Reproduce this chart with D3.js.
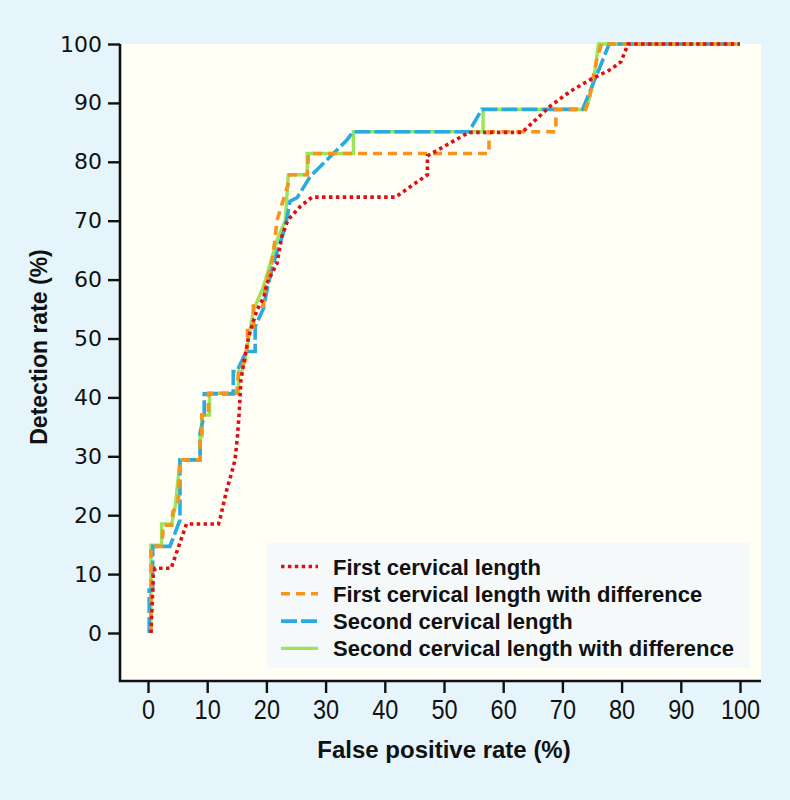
<!DOCTYPE html>
<html>
<head>
<meta charset="utf-8">
<script src="https://cdn.jsdelivr.net/npm/d3@7"></script>
<style>
  body { margin: 0; background: #e6f5fb; }
  svg { display: block; }
</style>
</head>
<body>
<div id="chart"></div>
<script>
// ROC curves, values (x = false positive %, y = detection %)
var xTicks = [0, 10, 20, 30, 40, 50, 60, 70, 80, 90, 100];
var yTicks = [0, 10, 20, 30, 40, 50, 60, 70, 80, 90, 100];

var firstX  = [0.5, 0.9, 1.2, 3.9, 6.5, 11.9, 12.2, 13.3, 14.1, 14.7, 15.1, 15.4, 15.7, 16.3, 17, 17.7, 18.4, 19.6, 20.1, 21.8, 22.6, 23.6, 25.7, 27.7, 41.8, 47.2, 47.2, 54.2, 63.2, 68, 71.4, 74.8, 78.2, 79.9, 81.1, 100];
var firstY  = [0, 9.8, 11, 11, 18.5, 18.5, 19.5, 24.3, 27.1, 29.4, 33.3, 37.3, 43, 46.6, 50.3, 52.6, 54.8, 57.1, 59.4, 62.8, 67.3, 70.1, 72.4, 74, 74, 77.8, 81, 85, 85, 89.5, 92, 94, 95.7, 97, 100, 100];

var firstDiffX = [0.5, 0.5, 2.3, 2.6, 4.0, 4.2, 5.1, 5.4, 8.8, 8.8, 9.1, 9.1, 10.2, 10.2, 15, 15.3, 16.5, 16.8, 16.8, 17.8, 17.8, 19.5, 19.8, 20.9, 21.3, 21.8, 22.6, 23.7, 24, 26.9, 27.1, 57.6, 57.6, 68.9, 68.9, 73.9, 74.5, 75.1, 75.9, 76.6, 100];
var firstDiffY = [0, 14.7, 14.7, 18.3, 18.3, 20.6, 22, 29.4, 29.4, 33.3, 33.3, 37, 37, 40.7, 40.7, 44.4, 46.4, 49.7, 52, 52, 55.5, 55.5, 58.8, 62.8, 65.6, 70.1, 72.7, 76.3, 77.8, 77.8, 81.4, 81.4, 85.1, 85.1, 88.9, 88.9, 90.5, 93.9, 97.8, 100, 100];

var secondX = [0.2, 0.2, 0.8, 0.8, 3.7, 5.4, 5.4, 8.8, 8.8, 9.5, 9.5, 14.4, 14.4, 15, 16.6, 18.1, 18.1, 19.5, 20.2, 21.2, 23.2, 24, 25.2, 27.4, 30.8, 33.6, 34.6, 54.2, 56.4, 73.4, 75.9, 77.9, 100];
var secondY = [0, 7.3, 7.3, 14.7, 14.7, 19.2, 29.4, 29.4, 34, 37, 40.6, 40.6, 44.4, 44.4, 47.8, 47.8, 52, 55.1, 58.8, 62.8, 69, 73.3, 73.9, 77.5, 80.9, 83.7, 85.1, 85.1, 88.9, 88.9, 95, 100, 100];

var secondDiffX = [0.5, 0.5, 2.3, 2.3, 4, 4.6, 5.4, 8.8, 8.8, 9.1, 9.1, 10.4, 10.4, 15.3, 15.3, 15.8, 16.1, 16.7, 17.8, 19.5, 21.8, 23.2, 23.7, 26.9, 26.9, 34.7, 34.7, 56.6, 56.6, 73.9, 74.5, 75.3, 76.1, 100];
var secondDiffY = [0, 14.9, 14.9, 18.5, 18.5, 21.5, 29.4, 29.4, 33.3, 33.3, 37, 37, 40.7, 40.7, 44.4, 44.4, 45.2, 48, 54.8, 58.8, 66.7, 70.1, 77.8, 77.8, 81.4, 81.4, 85.1, 85.1, 88.9, 88.9, 90.5, 94, 100, 100];

var seriesNames = ["First cervical length", "First cervical length with difference", "Second cervical length", "Second cervical length with difference"];

var series = [
  { name: seriesNames[3], xs: secondDiffX, ys: secondDiffY, color: "#9be55a", dash: null,      width: 3.4 },
  { name: seriesNames[2], xs: secondX,     ys: secondY,     color: "#29abe2", dash: "16,4",    width: 3.6 },
  { name: seriesNames[1], xs: firstDiffX,  ys: firstDiffY,  color: "#f7941d", dash: "9,6",     width: 3.6 },
  { name: seriesNames[0], xs: firstX,      ys: firstY,      color: "#dd1015", dash: "3.5,3.4", width: 3.6 }
];

var w = 790, h = 800;
var frame = { left: 120, right: 761, top: 44, bottom: 681 };

var x = d3.scaleLinear().domain([0, 100]).range([148, 740]);
var y = d3.scaleLinear().domain([0, 100]).range([633, 44]);

var svg = d3.select("#chart").append("svg")
  .attr("width", w)
  .attr("height", h);

svg.append("rect")
  .attr("width", w).attr("height", h)
  .attr("fill", "#e6f5fb");

// plot background
svg.append("rect")
  .attr("x", frame.left).attr("y", frame.top)
  .attr("width", frame.right - frame.left)
  .attr("height", frame.bottom - frame.top)
  .attr("fill", "#fffff6");

var line = d3.line()
  .x(function (d) { return x(d[0]); })
  .y(function (d) { return y(d[1]); });

svg.append("g").selectAll("path")
  .data(series)
  .enter()
  .append("path")
    .attr("d", function (s) { return line(d3.zip(s.xs, s.ys)); })
    .attr("fill", "none")
    .attr("stroke", function (s) { return s.color; })
    .attr("stroke-width", function (s) { return s.width; })
    .attr("stroke-dasharray", function (s) { return s.dash; });

// axes
var yAxis = svg.append("g")
  .attr("transform", "translate(" + frame.left + ",0)")
  .call(d3.axisLeft(y).tickValues(yTicks).tickSize(12).tickSizeOuter(0).tickPadding(6));
yAxis.select(".domain").remove();
yAxis.selectAll("line").attr("stroke", "#111").attr("stroke-width", 2.4);
yAxis.selectAll("text")
  .style("font-family", "DejaVu Sans")
  .style("font-size", "22px")
  .attr("fill", "#111");

var xAxis = svg.append("g")
  .attr("transform", "translate(0," + frame.bottom + ")")
  .call(d3.axisBottom(x).tickValues(xTicks).tickSize(12).tickSizeOuter(0).tickPadding(6));
xAxis.select(".domain").remove();
xAxis.selectAll("line").attr("stroke", "#111").attr("stroke-width", 2.4);
// narrow digits: squeeze the sans glyphs horizontally
xAxis.selectAll("text")
  .attr("transform", "scale(0.84,1)")
  .style("font-family", "Liberation Sans")
  .style("font-size", "28px")
  .attr("fill", "#111");

svg.append("path")
  .attr("d", "M" + frame.left + "," + frame.top + "V" + frame.bottom + "H" + frame.right)
  .attr("fill", "none")
  .attr("stroke", "#111")
  .attr("stroke-width", 2.6);

// axis titles
svg.append("text")
  .attr("transform", "translate(47,347) rotate(-90)")
  .attr("text-anchor", "middle")
  .style("font-family", "Liberation Sans")
  .style("font-weight", "bold")
  .style("font-size", "23px")
  .attr("fill", "#111")
  .text("Detection rate (%)");

svg.append("text")
  .attr("x", 444).attr("y", 758)
  .attr("text-anchor", "middle")
  .style("font-family", "Liberation Sans")
  .style("font-weight", "bold")
  .style("font-size", "24px")
  .attr("fill", "#111")
  .text("False positive rate (%)");

// legend
var legend = svg.append("g");
legend.append("rect")
  .attr("x", 267).attr("y", 543)
  .attr("width", 483).attr("height", 125)
  .attr("fill", "#f5f9f9");

var items = legend.selectAll("g.item")
  .data(series.slice().reverse())
  .enter()
  .append("g")
    .attr("class", "item")
    .attr("transform", function (d, i) { return "translate(0," + (566.5 + i * 27.3) + ")"; });

items.append("line")
  .attr("x1", 281).attr("x2", 318)
  .attr("stroke", function (s) { return s.color; })
  .attr("stroke-width", function (s) { return s.width; })
  .attr("stroke-dasharray", function (s) { return s.dash; });

items.append("text")
  .attr("x", 333).attr("y", 8)
  .style("font-family", "Liberation Sans")
  .style("font-weight", "bold")
  .style("font-size", "22px")
  .attr("fill", "#111")
  .text(function (s) { return s.name; });
</script>
</body>
</html>
